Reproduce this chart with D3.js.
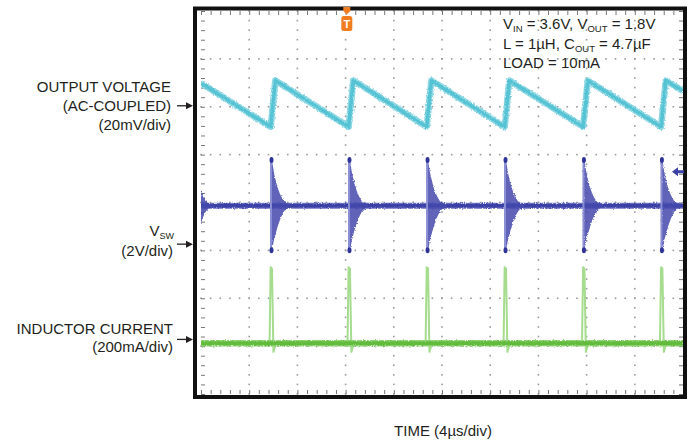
<!DOCTYPE html>
<html>
<head>
<meta charset="utf-8">
<script src="https://cdn.jsdelivr.net/npm/d3@7"></script>
<style>
  body { margin: 0; background: #fff; }
  text { font-family: "Liberation Sans", Arial, sans-serif; fill: #231f20; }
</style>
</head>
<body>
<div id="scope"></div>
<script>
// time base: 10 div x 4us, vertical: 8 div
var xTicks = [0, 4, 8, 12, 16, 20, 24, 28, 32, 36, 40];
var yTicks = [-4, -3, -2, -1, 0, 1, 2, 3, 4];

// switching instants (us)
var swTimes = [-0.67, 5.81, 12.28, 18.76, 25.23, 31.74, 38.21];

// output voltage ripple, [us, div]
var voutPts = [[0, 2.49], [5.78, 1.58], [6.17, 2.55], [12.25, 1.58], [12.64, 2.55],
  [18.73, 1.58], [19.12, 2.55], [25.2, 1.58], [25.59, 2.55], [31.71, 1.58],
  [32.1, 2.55], [38.18, 1.58], [38.57, 2.55], [40, 2.33]];

// switch node: baseline, edge extent and ringing envelope after each edge
var vswBase = -0.07;
var vswEdge = [0.93, -1.04];
var ringDt = [0, 0.1, 0.25, 0.42, 0.65, 0.9, 1.2, 1.6];
var ringHi = [0.9, 0.84, 0.62, 0.44, 0.24, 0.1, 0.0, -0.03];
var ringLo = [-1.0, -0.96, -0.78, -0.62, -0.43, -0.27, -0.15, -0.11];

// inductor current: baseline and spike shape [dt us, div]
var ilBase = -2.94;
var ilSpike = [[-0.12, -2.94], [-0.03, -1.35], [0.08, -1.38], [0.2, -3.12], [0.4, -2.94]];

// channel ground arrows (left) and trigger marks
var chanRefs = [2.02, -0.87, -2.86];
var trigTime = 12.1, trigLevel = 0.64;

var W = 691, H = 445;
var plot = {left: 201, right: 683, top: 11, bottom: 394};

var svg = d3.select("#scope").append("svg")
    .attr("width", W).attr("height", H);

var x = d3.scaleLinear().domain([0, 40]).range([plot.left, plot.right]);
var y = d3.scaleLinear().domain([-4, 4]).range([plot.bottom, plot.top]);

var defs = svg.append("defs");
defs.append("clipPath").attr("id", "clip")
  .append("rect")
    .attr("x", plot.left).attr("y", plot.top)
    .attr("width", plot.right - plot.left).attr("height", plot.bottom - plot.top);

// a bit of scope noise on the traces
var f = defs.append("filter").attr("id", "fuzz").attr("filterUnits", "userSpaceOnUse")
    .attr("x", 0).attr("y", 0).attr("width", W).attr("height", H);
f.append("feTurbulence").attr("type", "fractalNoise")
    .attr("baseFrequency", "0.9 0.6").attr("numOctaves", 2).attr("seed", 3).attr("result", "n");
f.append("feDisplacementMap").attr("in", "SourceGraphic").attr("in2", "n")
    .attr("scale", 3).attr("xChannelSelector", "R").attr("yChannelSelector", "G");

// dotted graticule, dots every 1/5 division
var grid = svg.append("g").attr("fill", "#9a9a9a");
var xMinor = d3.range(0, 40.01, 0.8), yMinor = d3.range(-4, 4.01, 0.2);
xTicks.slice(1, -1).forEach(function(t) {
  grid.selectAll(null).data(yMinor).enter().append("rect")
    .attr("x", x(t) - 0.8).attr("y", function(d) { return y(d) - 0.8; })
    .attr("width", 1.6).attr("height", 1.6);
});
yTicks.slice(1, -1).forEach(function(v) {
  grid.selectAll(null).data(xMinor).enter().append("rect")
    .attr("x", function(d) { return x(d) - 0.8; }).attr("y", y(v) - 0.8)
    .attr("width", 1.6).attr("height", 1.6);
});

// edge ticks using the axes
function edgeAxis(axis, tr) {
  var g = svg.append("g").attr("transform", tr).call(axis);
  g.select(".domain").remove();
  g.selectAll("text").remove();
  g.selectAll("line").attr("stroke", "#777").attr("stroke-width", 1);
}
edgeAxis(d3.axisBottom(x).tickValues(xMinor).tickSize(4), "translate(0," + plot.top + ")");
edgeAxis(d3.axisTop(x).tickValues(xMinor).tickSize(4), "translate(0," + plot.bottom + ")");
edgeAxis(d3.axisRight(y).tickValues(yMinor).tickSize(4), "translate(" + plot.left + ",0)");
edgeAxis(d3.axisLeft(y).tickValues(yMinor).tickSize(4), "translate(" + plot.right + ",0)");

var traces = svg.append("g").attr("clip-path", "url(#clip)");
var line = d3.line().x(function(d) { return x(d[0]); }).y(function(d) { return y(d[1]); });

// output voltage
var vout = traces.append("g").attr("filter", "url(#fuzz)");
vout.append("path").datum(voutPts)
    .attr("fill", "none").attr("stroke", "#8fd8e3").attr("stroke-width", 6.5)
    .attr("stroke-linejoin", "round").attr("d", line);
vout.append("path").datum(voutPts)
    .attr("fill", "none").attr("stroke", "#57c3d4").attr("stroke-width", 3.5)
    .attr("stroke-linejoin", "round").attr("d", line);

// switch node
var vsw = traces.append("g");
var ring = d3.range(ringDt.length).map(function(i) { return [ringDt[i], ringHi[i], ringLo[i]]; });
var vswFuzz = vsw.append("g").attr("filter", "url(#fuzz)");
vswFuzz.append("path").datum([[0, vswBase], [40, vswBase]])
    .attr("fill", "none").attr("stroke", "#6c70c0").attr("stroke-width", 6).attr("d", line);
vswFuzz.append("path").datum([[0, vswBase], [40, vswBase]])
    .attr("fill", "none").attr("stroke", "#3a3fa6").attr("stroke-width", 3.5).attr("d", line);
swTimes.forEach(function(t0) {
  var area = d3.area()
      .x(function(d) { return x(t0 + d[0]); })
      .y0(function(d) { return y(d[2]); })
      .y1(function(d) { return y(d[1]); })
      .curve(d3.curveMonotoneX);
  vswFuzz.append("path").datum(ring)
      .attr("fill", "#4449ad").attr("fill-opacity", 0.85).attr("d", area);
  vsw.append("line")
      .attr("x1", x(t0)).attr("x2", x(t0))
      .attr("y1", y(vswEdge[0])).attr("y2", y(vswEdge[1]))
      .attr("stroke", "#8b8fd3").attr("stroke-width", 2);
  vsw.selectAll(null).data(vswEdge).enter().append("ellipse")
      .attr("cx", x(t0) + 0.5).attr("cy", function(d) { return y(d) + (d > 0 ? 2 : -2); })
      .attr("rx", 2).attr("ry", 3).attr("fill", "#2f3499");
});

// inductor current
var ilPts = [[0, ilBase]];
swTimes.forEach(function(t0) {
  ilSpike.forEach(function(p) { ilPts.push([t0 + p[0], p[1]]); });
});
ilPts.push([40, ilBase]);
ilPts = ilPts.filter(function(p) { return p[0] >= -0.5; });
var il = traces.append("g");
il.append("path").datum(ilPts)
    .attr("fill", "none").attr("stroke", "#a5dc8e").attr("stroke-width", 2)
    .attr("stroke-linejoin", "round").attr("d", line);
var ilFuzz = il.append("g").attr("filter", "url(#fuzz)");
ilFuzz.append("path").datum([[0, ilBase], [40, ilBase]])
    .attr("fill", "none").attr("stroke", "#93d47a").attr("stroke-width", 6.5).attr("d", line);
ilFuzz.append("path").datum([[0, ilBase], [40, ilBase]])
    .attr("fill", "none").attr("stroke", "#62bb3e").attr("stroke-width", 3.8).attr("d", line);

// frame
svg.append("rect")
    .attr("x", 195).attr("y", 8.5).attr("width", 490).attr("height", 388.5)
    .attr("fill", "none").attr("stroke", "#111").attr("stroke-width", 4);

// trigger position marker
var tx = x(trigTime);
var trig = svg.append("g").attr("transform", "translate(" + tx + ",0)");
trig.append("path").attr("d", "M-3.5,7 L3.5,7 L3.5,11 L0,14.5 L-3.5,11 Z").attr("fill", "#f07d20");
trig.append("rect").attr("x", -5.5).attr("y", 16).attr("width", 11).attr("height", 15)
    .attr("rx", 2.5).attr("fill", "#f07d20");
trig.append("text").attr("y", 28).attr("text-anchor", "middle")
    .style("font-size", "11px").style("font-weight", "bold").style("fill", "#fff").text("T");

// trigger level marker (right)
var ty = y(trigLevel);
svg.append("path")
    .attr("d", "M" + (plot.right - 11) + "," + ty + " l6,-4.5 v3 h6 v3 h-6 v3 z")
    .attr("fill", "#3a3fa6");

// channel reference arrows (left)
chanRefs.forEach(function(v) {
  var yy = y(v);
  svg.append("line").attr("x1", 177).attr("x2", 188).attr("y1", yy).attr("y2", yy)
      .attr("stroke", "#231f20").attr("stroke-width", 1.3);
  svg.append("path").attr("d", "M193," + yy + " l-7,-3.5 v7 z").attr("fill", "#231f20");
});

// labels
var lab = svg.append("g").attr("text-anchor", "end").style("font-size", "15px");
lab.append("text").attr("x", 171).attr("y", 92).text("OUTPUT VOLTAGE");
lab.append("text").attr("x", 171).attr("y", 111).text("(AC-COUPLED)");
lab.append("text").attr("x", 171).attr("y", 130).text("(20mV/div)");
var vs = lab.append("text").attr("x", 174).attr("y", 236);
vs.append("tspan").text("V");
vs.append("tspan").attr("dy", 3).style("font-size", "9px").text("SW");
lab.append("text").attr("x", 173).attr("y", 256).text("(2V/div)");
lab.append("text").attr("x", 173).attr("y", 334).text("INDUCTOR CURRENT");
lab.append("text").attr("x", 173).attr("y", 352).text("(200mA/div)");

// conditions box, top right
var cond = svg.append("g").style("font-size", "15px");
function sub(t, s) {
  t.append("tspan").attr("dy", 3).style("font-size", "9.5px").text(s);
  return t.append("tspan").attr("dy", -3);
}
var c1 = cond.append("text").attr("x", 503).attr("y", 29);
c1.append("tspan").text("V");
sub(c1, "IN").text(" = 3.6V, V");
sub(c1, "OUT").text(" = 1.8V");
var c2 = cond.append("text").attr("x", 503).attr("y", 49);
c2.append("tspan").text("L = 1µH, C");
sub(c2, "OUT").text(" = 4.7µF");
cond.append("text").attr("x", 503).attr("y", 68).text("LOAD = 10mA");

svg.append("text").attr("x", 443).attr("y", 436).attr("text-anchor", "middle")
    .style("font-size", "15px").text("TIME (4µs/div)");
</script>
</body>
</html>
